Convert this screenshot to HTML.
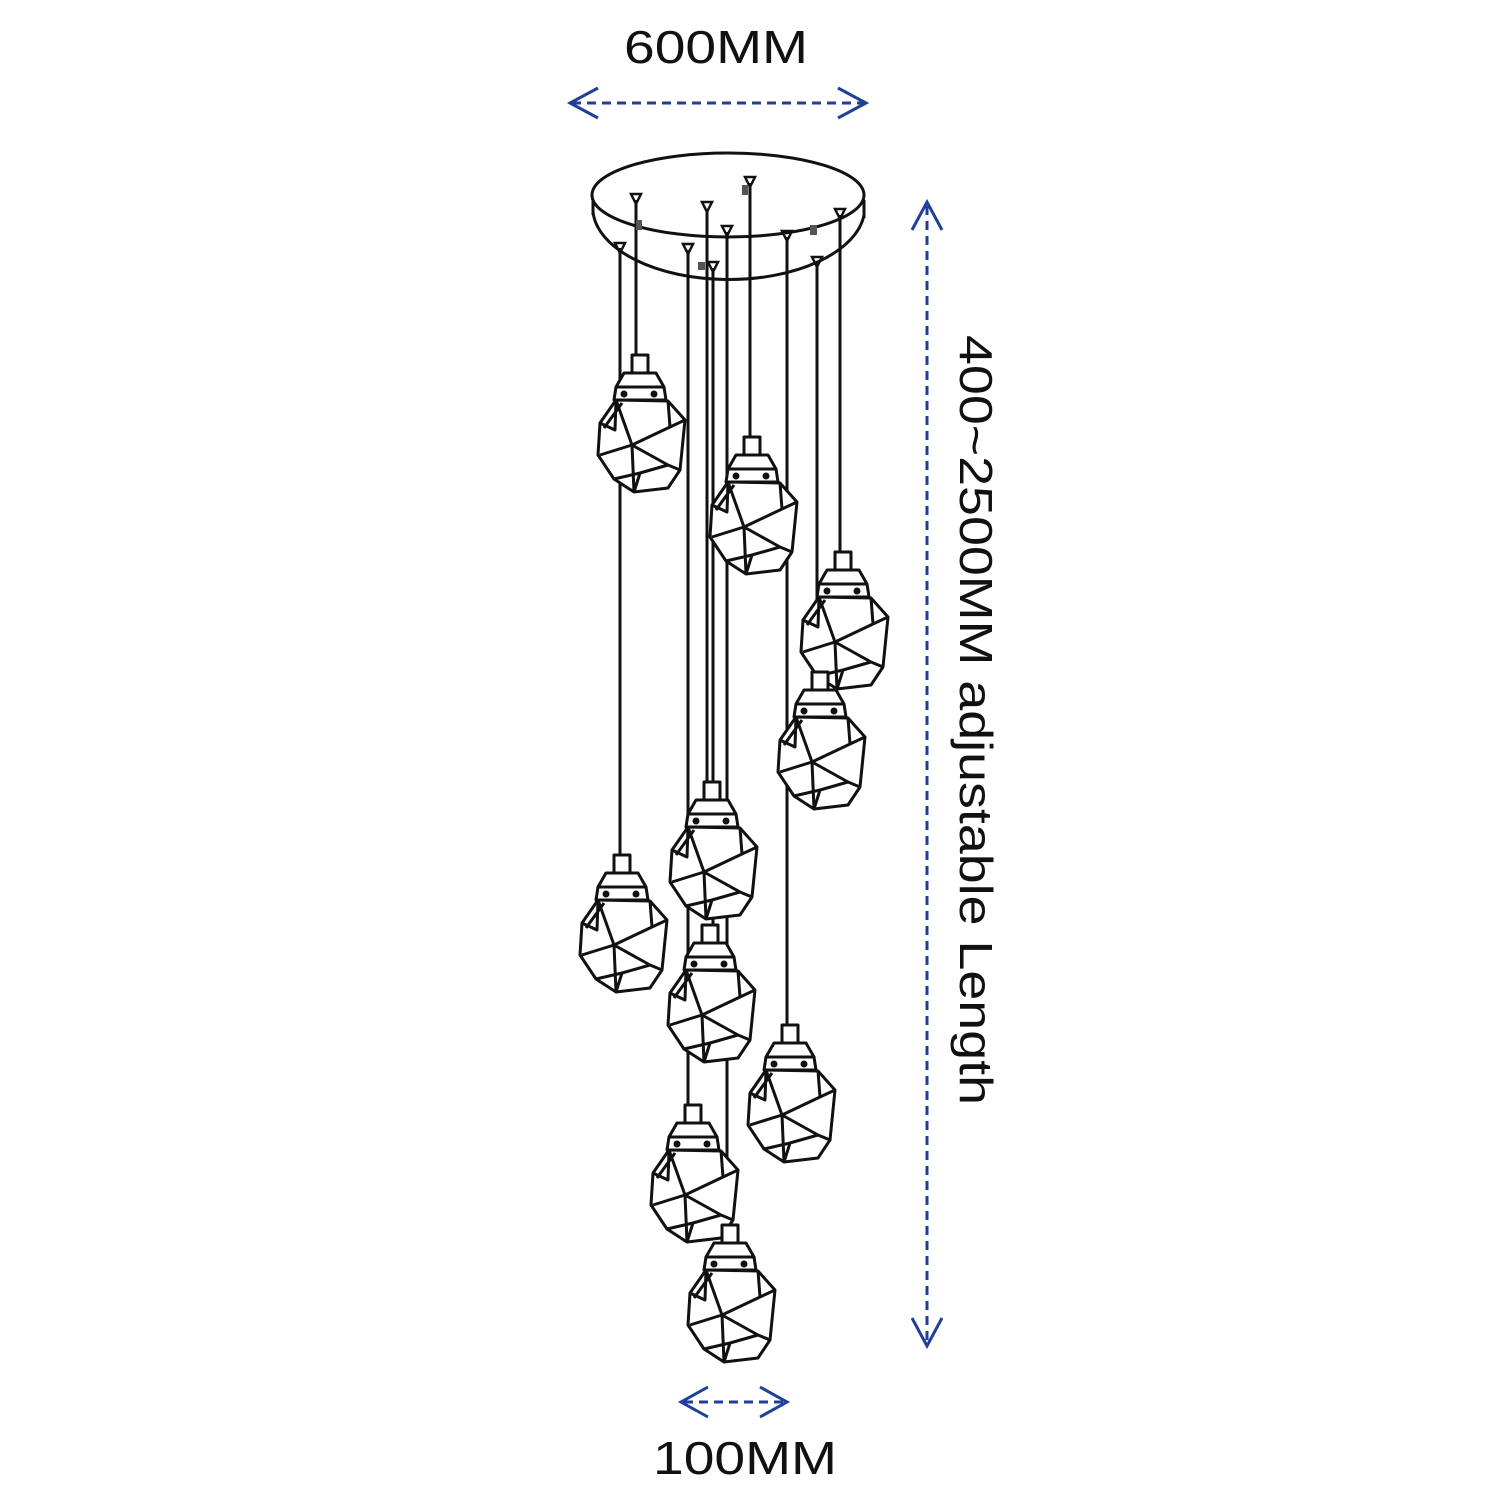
<!DOCTYPE html>
<html><head><meta charset="utf-8"><style>
html,body{margin:0;padding:0;background:#fff;}
svg{display:block;}
</style></head><body>
<svg width="1500" height="1500" viewBox="0 0 1500 1500" xmlns="http://www.w3.org/2000/svg">
<defs>
<g id="p" fill="none" stroke="#111" stroke-width="3" stroke-linejoin="round">
  <rect x="-8" y="0" width="16" height="18" fill="#fff"/>
  <path d="M-16 18 L16 18 L24 32 L-24 32 Z" fill="#fff"/>
  <path d="M-24 32 L24 32 L26 45 L-26 45 Z" fill="#fff"/>
  <path d="M-24 45 L-40 68 L-42 100 L-26 124 L-6 137 L28 133 L40 115 L45 65 L28 46 Z" fill="#fff"/>
  <path d="M-24 45 L-8 90 L-40 100 M-8 90 L30 72 L45 65 M-8 90 L28 110 L40 115 M-8 90 L-6 137 M-18 48 L-36 73 M-26 124 L0 118 L28 110 M28 46 L30 72 M-40 68 L-25 75 L-24 45 M0 118 L-6 137"/>
  <circle cx="-16" cy="39" r="2" fill="#111"/><circle cx="14" cy="39" r="2" fill="#111"/>
</g>
<g id="c" fill="none" stroke="#111" stroke-width="2.5">
  <path d="M-5 -6 L5 -6 L0 4 Z"/>
</g>
</defs>

<!-- canopy -->
<g fill="none" stroke="#111" stroke-width="3">
  <ellipse cx="728" cy="195" rx="136" ry="42" fill="#fff"/>
  <path d="M593 200 L593 215"/><path d="M864 200 L864 218"/>
  <path d="M593 212 A136 72 0 0 0 864 215"/>
</g>

<!-- cords -->
<g stroke="#111" stroke-width="3">
  <line x1="636" y1="200" x2="636" y2="355"/>
  <line x1="750" y1="183" x2="750" y2="437"/>
  <line x1="840" y1="215" x2="840" y2="552"/>
  <line x1="817" y1="262" x2="817" y2="672"/>
  <line x1="707" y1="210" x2="707" y2="782"/>
  <line x1="620" y1="248" x2="620" y2="855"/>
  <line x1="713" y1="268" x2="713" y2="925"/>
  <line x1="787" y1="237" x2="787" y2="1025"/>
  <line x1="688" y1="250" x2="688" y2="1105"/>
  <line x1="727" y1="232" x2="727" y2="1225"/>
</g>
<g>
  <use href="#c" x="636" y="200"/><use href="#c" x="750" y="183"/><use href="#c" x="840" y="215"/>
  <use href="#c" x="817" y="263"/><use href="#c" x="707" y="208"/><use href="#c" x="620" y="249"/>
  <use href="#c" x="713" y="268"/><use href="#c" x="787" y="237"/><use href="#c" x="688" y="250"/>
  <use href="#c" x="727" y="232"/>
</g>
<g fill="#555">
  <rect x="636" y="220" width="6" height="10"/><rect x="742" y="185" width="6" height="10"/>
  <rect x="810" y="225" width="7" height="10"/><rect x="698" y="262" width="7" height="8"/>
</g>

<!-- pendants -->
<use href="#p" x="640" y="355"/>
<use href="#p" x="752" y="437"/>
<use href="#p" x="843" y="552"/>
<use href="#p" x="820" y="672"/>
<use href="#p" x="712" y="782"/>
<use href="#p" x="622" y="855"/>
<use href="#p" x="710" y="925"/>
<use href="#p" x="790" y="1025"/>
<use href="#p" x="693" y="1105"/>
<use href="#p" x="730" y="1225"/>

<!-- dimension arrows -->
<g fill="none" stroke="#1f3f99" stroke-width="3">
  <line x1="572" y1="103" x2="864" y2="103" stroke-dasharray="9 6"/>
  <path d="M598 88 L570 103 L598 118"/><path d="M838 88 L866 103 L838 118"/>
  <line x1="927" y1="206" x2="927" y2="1342" stroke-dasharray="9 6"/>
  <path d="M912 230 L927 202 L942 230"/><path d="M912 1318 L927 1346 L942 1318"/>
  <line x1="684" y1="1402" x2="784" y2="1402" stroke-dasharray="9 6"/>
  <path d="M708 1387 L681 1402 L708 1417"/><path d="M760 1387 L787 1402 L760 1417"/>
</g>

<g font-family="Liberation Sans, sans-serif" fill="#111">
  <text x="716" y="63" font-size="46" text-anchor="middle" textLength="184" lengthAdjust="spacingAndGlyphs">600MM</text>
  <text x="745" y="1474" font-size="46" text-anchor="middle" textLength="184" lengthAdjust="spacingAndGlyphs">100MM</text>
  <text transform="translate(960,335) rotate(90)" font-size="46" textLength="770" lengthAdjust="spacingAndGlyphs">400~2500MM adjustable Length</text>
</g>
</svg>
</body></html>
